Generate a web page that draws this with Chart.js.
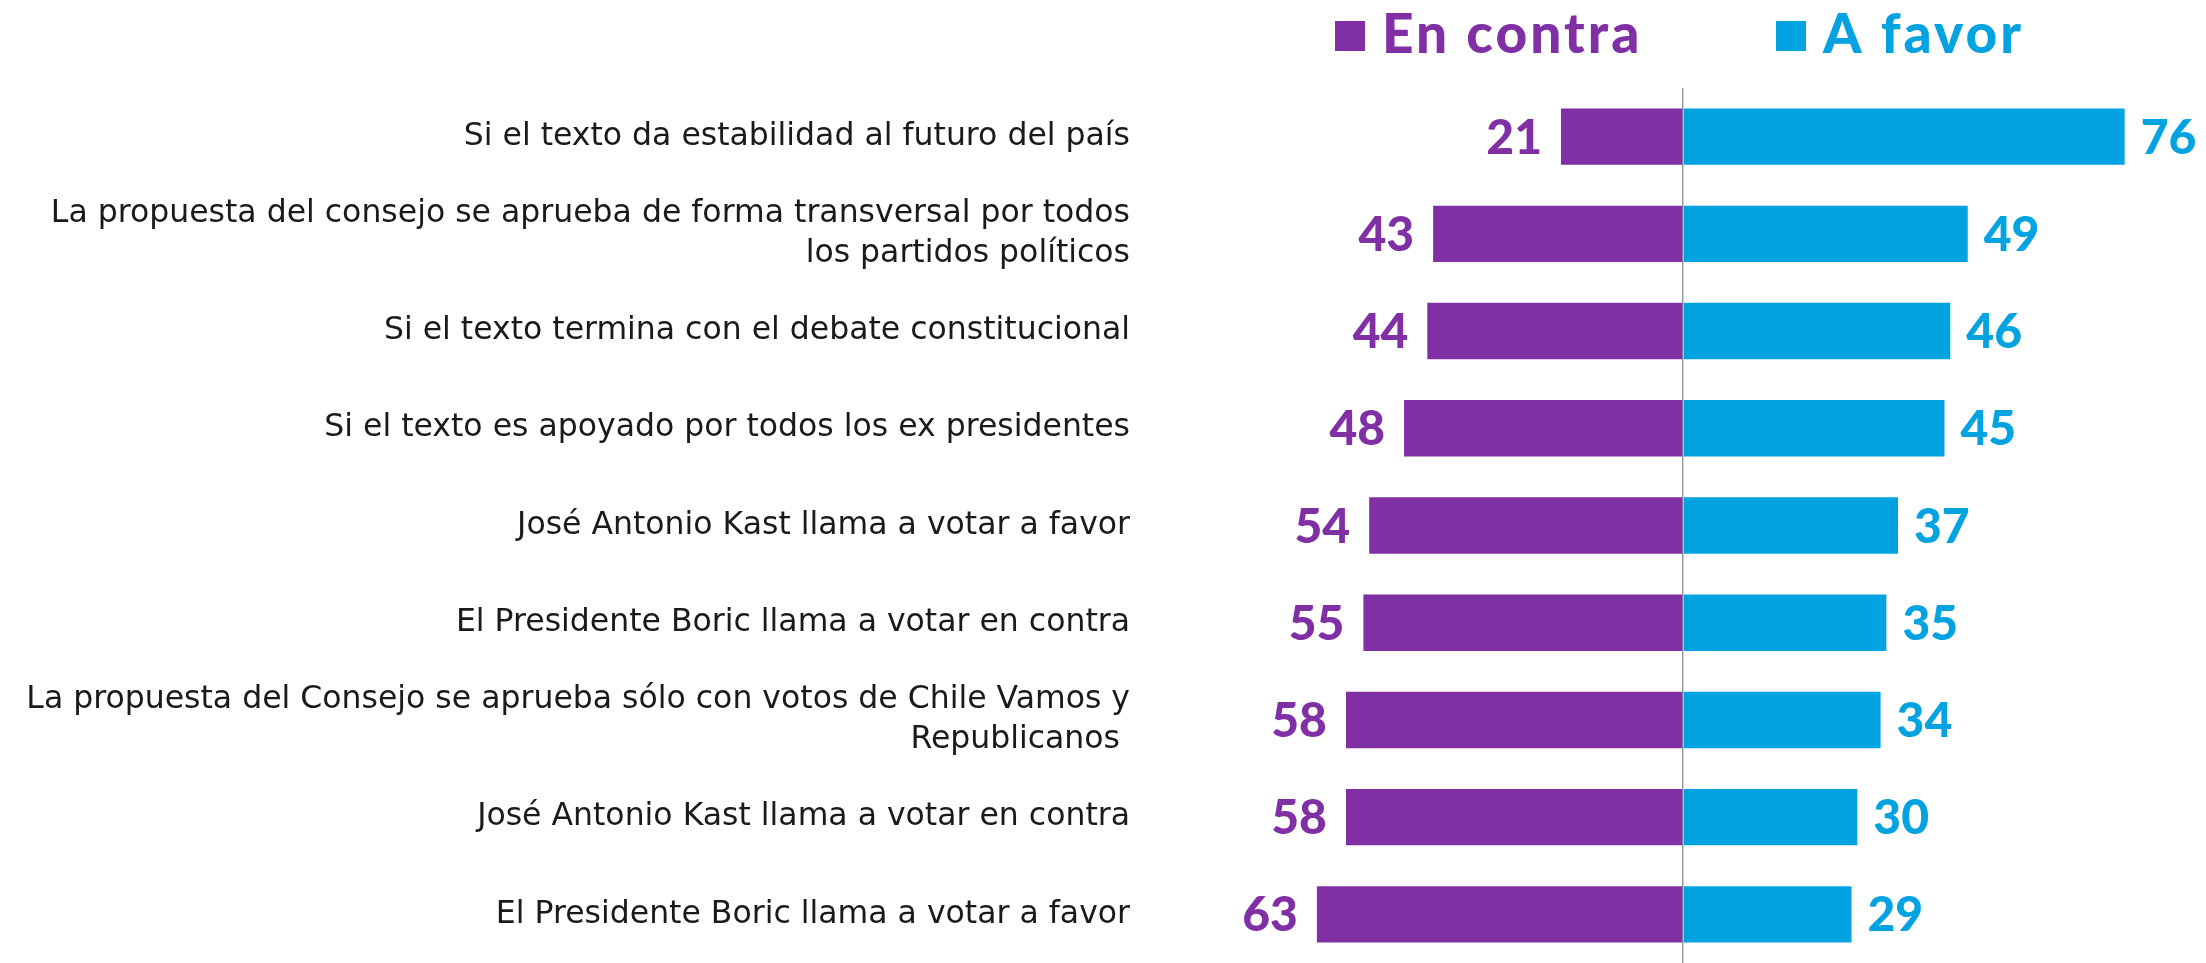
<!DOCTYPE html>
<html>
<head>
<meta charset="utf-8">
<script src="https://cdnjs.cloudflare.com/ajax/libs/Chart.js/4.4.0/chart.umd.min.js"></script>
<style>
  html, body { margin: 0; padding: 0; background: #fff; }
  #wrap { width: 2206px; height: 963px; position: relative; }
</style>
</head>
<body>
<div id="wrap"><canvas id="chart1"></canvas></div>
<script>
const categories = [
    "Si el texto da estabilidad al futuro del país",
    ["La propuesta del consejo se aprueba de forma transversal por todos", "los partidos políticos"],
    "Si el texto termina con el debate constitucional",
    "Si el texto es apoyado por todos los ex presidentes",
    "José Antonio Kast llama a votar a favor",
    "El Presidente Boric llama a votar en contra",
    ["La propuesta del Consejo se aprueba sólo con votos de Chile Vamos y", "Republicanos "],
    "José Antonio Kast llama a votar en contra",
    "El Presidente Boric llama a votar a favor"
];
const enContra = [21, 43, 44, 48, 54, 55, 58, 58, 63];
const aFavor = [76, 49, 46, 45, 37, 35, 34, 30, 29];

const PURPLE = '#812FA4';
const BLUE = '#03A2E0';

// value labels at the bar ends
const valueLabels = {
    id: 'valueLabels',
    afterDatasetsDraw(chart) {
        const { ctx } = chart;
        ctx.save();
        ctx.font = '900 48px Lato';
        ctx.textBaseline = 'alphabetic';
        chart.data.datasets.forEach((ds, i) => {
            const meta = chart.getDatasetMeta(i);
            meta.data.forEach((bar, j) => {
                const v = Math.abs(ds.data[j]);
                ctx.fillStyle = ds.backgroundColor;
                const y = bar.y + 17;
                if (ds.data[j] < 0) {
                    ctx.textAlign = 'right';
                    ctx.fillText(v, bar.x - 19, y);
                } else {
                    ctx.textAlign = 'left';
                    ctx.fillText(v, bar.x + 16, y);
                }
            });
        });
        ctx.restore();
    }
};

// legend above the bars, placed around the zero line
const topLegend = {
    id: 'topLegend',
    afterDraw(chart) {
        const { ctx } = chart;
        const x0 = chart.scales.x.getPixelForValue(0);
        const starts = [x0 - 348, x0 + 93];
        ctx.save();
        ctx.font = '900 55px Lato';
        ctx.letterSpacing = '3px';
        ctx.textAlign = 'left';
        ctx.textBaseline = 'alphabetic';
        chart.data.datasets.forEach((ds, i) => {
            const sx = starts[i];
            ctx.fillStyle = ds.backgroundColor;
            ctx.fillRect(sx, 21, 30, 30);
            ctx.fillText(ds.label, sx + 47, 53);
        });
        ctx.restore();
    }
};

const ctx = document.getElementById('chart1').getContext('2d');
new Chart(ctx, {
    type: 'bar',
    data: {
        labels: categories,
        datasets: [
            {
                label: 'En contra',
                data: enContra.map(v => -v),
                backgroundColor: PURPLE,
                barPercentage: 0.58,
                categoryPercentage: 1
            },
            {
                label: 'A favor',
                data: aFavor,
                backgroundColor: BLUE,
                barPercentage: 0.58,
                categoryPercentage: 1
            }
        ]
    },
    options: {
        indexAxis: 'y',
        responsive: true,
        maintainAspectRatio: false,
        animation: false,
        layout: { padding: { top: 88, bottom: 0, left: 0, right: 0 } },
        plugins: {
            legend: { display: false },
            tooltip: { enabled: false }
        },
        scales: {
            x: {
                stacked: true,
                min: -90,
                max: 90,
                ticks: { display: false, stepSize: 10 },
                border: { display: false },
                grid: {
                    drawTicks: false,
                    lineWidth: 1.5,
                    color: (c) => (c.tick && c.tick.value === 0 ? '#9a9a9a' : 'rgba(0,0,0,0)')
                },
                afterFit: (scale) => { scale.height = 0; }
            },
            y: {
                stacked: true,
                border: { display: false },
                grid: { display: false, drawTicks: false },
                ticks: {
                    padding: 30,
                    color: '#1a1a1a',
                    font: { family: '"DejaVu Sans"', size: 31.5, lineHeight: 1.25 }
                },
                afterFit: (scale) => {
                    scale.width = 1160;
                    scale.paddingTop = 0;
                    scale.paddingBottom = 0;
                }
            }
        }
    },
    plugins: [valueLabels, topLegend]
});
</script>
</body>
</html>
